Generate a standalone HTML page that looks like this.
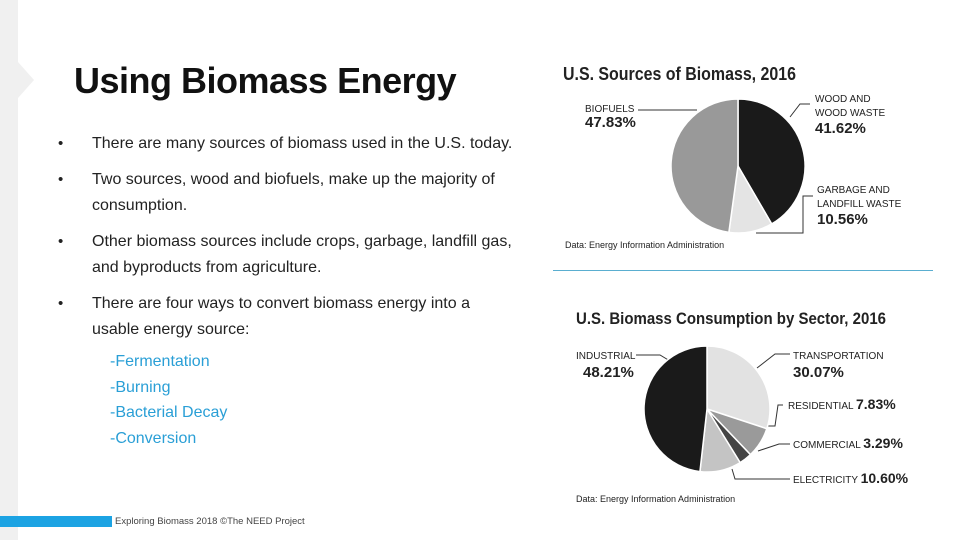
<!DOCTYPE html>
<html><head><meta charset="utf-8">
<style>
body{margin:0;width:960px;height:540px;overflow:hidden;background:#fff;font-family:"Liberation Sans",sans-serif;position:relative}
.a{position:absolute}
.title{left:74px;top:60px;font-size:36px;color:#111;font-weight:bold;letter-spacing:-0.5px}
.b{left:58px;font-size:15px;color:#222;line-height:26px}
.b span{position:absolute;left:34px;white-space:nowrap;font-size:16px}
.sub{left:110px;font-size:16px;color:#2a9fd6;line-height:25.5px}
</style></head><body>
<div class="a" style="left:0;top:0;width:18px;height:540px;background:#f0f0f0"></div>
<svg class="a" style="left:18px;top:62px" width="20" height="36"><polygon points="0,0 16,18 0,36" fill="#f0f0f0"/></svg>
<div class="a title">Using Biomass Energy</div>
<div class="a b" style="top:131px">•<span>There are many sources of biomass used in the U.S. today.</span></div>
<div class="a b" style="top:167px">•<span>Two sources, wood and biofuels, make up the majority of<br>consumption.</span></div>
<div class="a b" style="top:229px">•<span>Other biomass sources include crops, garbage, landfill gas,<br>and byproducts from agriculture.</span></div>
<div class="a b" style="top:291px">•<span>There are four ways to convert biomass energy into a<br>usable energy source:</span></div>
<div class="a sub" style="top:349px">-Fermentation<br>-Burning<br>-Bacterial Decay<br>-Conversion</div>
<div class="a" style="left:0;top:516px;width:112px;height:11px;background:#1ca3e3"></div>
<div class="a" style="left:115px;top:516px;font-size:9.5px;color:#444">Exploring Biomass 2018 ©The NEED Project</div>
<div class="a" style="left:553px;top:270px;width:380px;height:1px;background:#5aaed0"></div>
<svg class="a" style="left:0;top:0" width="960" height="540" id="ch">
<g font-family="Liberation Sans Narrow, Liberation Sans, sans-serif" fill="#222">
<text x="563" y="80" font-size="18" font-weight="bold" textLength="233" lengthAdjust="spacingAndGlyphs">U.S. Sources of Biomass, 2016</text>
<text x="585" y="112" font-size="10">BIOFUELS</text>
<text x="585" y="127" font-size="15" font-weight="bold">47.83%</text>
<text x="815" y="102" font-size="10">WOOD AND</text>
<text x="815" y="116" font-size="10">WOOD WASTE</text>
<text x="815" y="133" font-size="15" font-weight="bold">41.62%</text>
<text x="817" y="193" font-size="10">GARBAGE AND</text>
<text x="817" y="207" font-size="10">LANDFILL WASTE</text>
<text x="817" y="224" font-size="15" font-weight="bold">10.56%</text>
<text x="565" y="248" font-size="9">Data: Energy Information Administration</text>
<text x="576" y="324" font-size="17" font-weight="bold" textLength="310" lengthAdjust="spacingAndGlyphs">U.S. Biomass Consumption by Sector, 2016</text>
<text x="576" y="359" font-size="10">INDUSTRIAL</text>
<text x="583" y="377" font-size="15" font-weight="bold">48.21%</text>
<text x="793" y="359" font-size="10">TRANSPORTATION</text>
<text x="793" y="377" font-size="15" font-weight="bold">30.07%</text>
<text x="788" y="409" font-size="10">RESIDENTIAL <tspan font-size="14" font-weight="bold">7.83%</tspan></text>
<text x="793" y="448" font-size="10">COMMERCIAL <tspan font-size="14" font-weight="bold">3.29%</tspan></text>
<text x="793" y="483" font-size="10">ELECTRICITY <tspan font-size="14" font-weight="bold">10.60%</tspan></text>
<text x="576" y="502" font-size="9">Data: Energy Information Administration</text>
</g>
<g stroke="#333" stroke-width="1" fill="none">
<polyline points="638,110 697,110"/><polyline points="810,104 800,104 790,117"/>
<polyline points="813,196 803,196 803,233 756,233"/>
<polyline points="636,355 660,355 675,364"/><polyline points="790,354 775,354 757,368"/>
<polyline points="783,405 778,405 775,426 766,426"/><polyline points="790,444 779,444 758,451"/>
<polyline points="790,479 735,479 732,469"/>
</g>
</svg>
<script>
const cats1=["Wood and Wood Waste","Garbage and Landfill Waste","Biofuels"];
const vals1=[41.62,10.56,47.83];
const cats2=["Transportation","Residential","Commercial","Electricity","Industrial"];
const vals2=[30.07,7.83,3.29,10.60,48.21];
const cols1=["#1a1a1a","#e4e4e4","#999999"];
const cols2=["#e2e2e2","#9a9a9a","#444444","#c4c4c4","#1a1a1a"];
const svg=document.getElementById('ch');
function pie(vals,cats,cols,cx,cy,r,nm){
  const tot=vals.reduce((a,b)=>a+b,0);let a0=0;
  vals.forEach((v,i)=>{
    const a1=a0+v/tot*2*Math.PI;
    const x0=cx+r*Math.sin(a0),y0=cy-r*Math.cos(a0),x1=cx+r*Math.sin(a1),y1=cy-r*Math.cos(a1);
    const p=document.createElementNS('http://www.w3.org/2000/svg','path');
    p.setAttribute('d',`M${cx},${cy}L${x0},${y0}A${r},${r} 0 ${a1-a0>Math.PI?1:0} 1 ${x1},${y1}Z`);
    p.setAttribute('fill',cols[i]);p.setAttribute('stroke','#fff');p.setAttribute('stroke-width','1.5');
    
    
    svg.appendChild(p);a0=a1;
  });
}
pie(vals1,cats1,cols1,738,166,67,'sources');
pie(vals2,cats2,cols2,707,409,63,'sector');
</script>
</body></html>
